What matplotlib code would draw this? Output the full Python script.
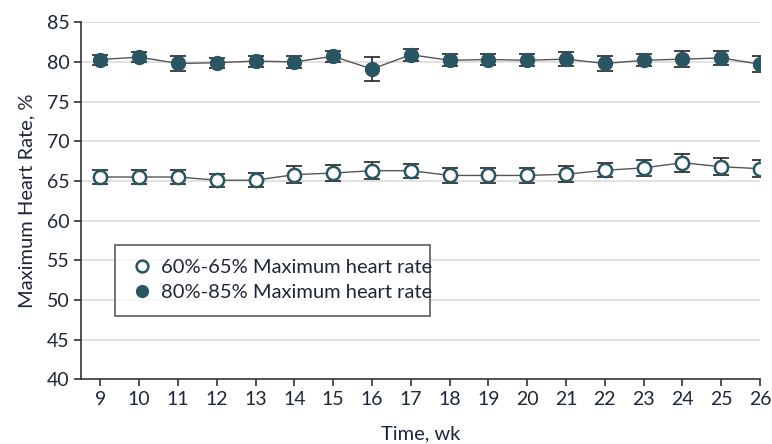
import numpy as np
import matplotlib
matplotlib.use("Agg")
import matplotlib.pyplot as plt

weeks = np.arange(9, 27)

# 60%-65% group (open markers)
low_mean = [65.5, 65.5, 65.5, 65.1, 65.1, 65.8, 66.0, 66.3, 66.3,
            65.7, 65.7, 65.7, 65.85, 66.35, 66.65, 67.3, 66.8, 66.55]
low_err = [0.94, 0.94, 0.94, 0.84, 0.88, 1.03, 1.0, 1.07, 0.9,
           0.92, 0.92, 0.92, 1.03, 0.9, 1.05, 1.13, 1.05, 1.1]

# 80%-85% group (filled markers)
high_mean = [80.3, 80.6, 79.8, 79.9, 80.1, 80.0, 80.7, 79.1, 80.9,
             80.2, 80.3, 80.2, 80.35, 79.8, 80.2, 80.35, 80.5, 79.7]
high_err = [0.63, 0.63, 0.92, 0.65, 0.7, 0.73, 0.7, 1.47, 0.73,
            0.75, 0.7, 0.75, 0.9, 0.94, 0.75, 1.0, 0.9, 0.98]

labels = ["60%-65% Maximum heart rate", "80%-85% Maximum heart rate"]
yticks = np.arange(40, 86, 5)

teal = "#2a5562"
txt = "#1f2636"

plt.rcParams["font.family"] = ["Lato", "DejaVu Sans"]
plt.rcParams["font.size"] = 14

fig = plt.figure(figsize=(7.72, 4.44), dpi=100)
ax = fig.add_axes([0.105, 0.1453, 0.8795, 0.8047])

for y in yticks[1:]:
    ax.axhline(y, color="#dcdcdc", lw=1.2, zorder=0)

ax.plot(weeks, low_mean, color="#555555", lw=1, zorder=1)
ax.plot(weeks, high_mean, color="#555555", lw=1, zorder=1)
ax.errorbar(weeks, low_mean, yerr=low_err, fmt="none", ecolor="#222222",
            elinewidth=1.2, capsize=6, capthick=1.2, zorder=2)
ax.errorbar(weeks, high_mean, yerr=high_err, fmt="none", ecolor="#222222",
            elinewidth=1.2, capsize=6, capthick=1.2, zorder=2)
ax.plot(weeks, low_mean, "o", ms=9.5, mfc="white", mec=teal, mew=1.8,
        ls="none", zorder=3, label=labels[0])
ax.plot(weeks, high_mean, "o", ms=10, mfc=teal, mec=teal, mew=1,
        ls="none", zorder=3, label=labels[1])

ax.set_xlim(8.5, 26)
ax.set_ylim(40, 85)
ax.set_xticks(weeks)
ax.set_yticks(yticks)
ax.spines["top"].set_visible(False)
ax.spines["right"].set_visible(False)
for s in ["left", "bottom"]:
    ax.spines[s].set_color("#333333")
    ax.spines[s].set_linewidth(1.2)
ax.tick_params(direction="out", length=5, width=1.2, color="#333333",
               labelcolor=txt, labelsize=14)
ax.set_xlabel("Time, wk", color=txt, fontsize=14.5, labelpad=12)
ax.set_ylabel("Maximum Heart Rate, %", color=txt, fontsize=14.5, labelpad=8)

leg = ax.legend(loc="upper left", bbox_to_anchor=(0.05, 0.18, 0.464, 0.196),
                mode="expand", borderaxespad=0, frameon=True, fancybox=False,
                fontsize=14.5, handletextpad=0.3, borderpad=0.7,
                labelspacing=0.4, handlelength=1.3, labelcolor=txt)
leg.get_frame().set_edgecolor("#333333")
leg.get_frame().set_linewidth(1.2)
for h in leg.legend_handles:
    h.set_markersize(8.5)

fig.savefig("out.png", dpi=100)
